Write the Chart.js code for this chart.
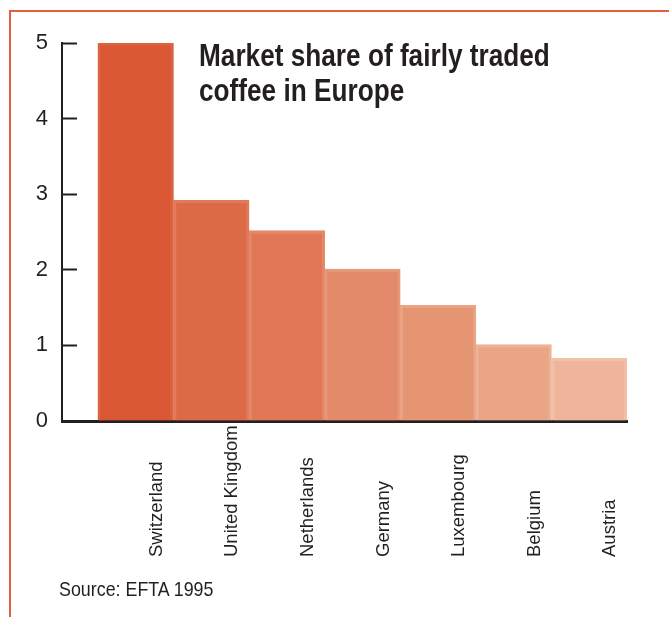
<!DOCTYPE html>
<html>
<head>
<meta charset="utf-8">
<script src="https://cdn.jsdelivr.net/npm/chart.js@4/dist/chart.umd.min.js"></script>
<style>
  html, body { margin: 0; padding: 0; background: #fff; }
  #wrap { position: relative; width: 669px; height: 617px; overflow: hidden; }
  #frame { position: absolute; left: 9px; top: 10px; width: 670px; height: 620px;
           border-top: 2px solid #e1603b; border-left: 2px solid #e1603b; pointer-events: none; }
  #title { position: absolute; left: 199px; top: 38px; font: bold 31px "Liberation Sans", Arial, sans-serif;
           line-height: 35px; color: #231f20; white-space: nowrap;
           transform: scaleX(0.845); transform-origin: 0 0; }
  #source { position: absolute; left: 59px; top: 577px; font: 21px "Liberation Sans", Arial, sans-serif;
            color: #231f20; white-space: nowrap; transform: scaleX(0.85); transform-origin: 0 0; }
</style>
</head>
<body>
<div id="wrap">
  <canvas id="chart" width="669" height="617"></canvas>
  <div id="frame"></div>
  <div id="title">Market share of fairly traded<br>coffee in Europe</div>
  <div id="source">Source: EFTA 1995</div>
</div>
<script>
// market share (%) of fairly traded coffee
const countries = ["Switzerland", "United Kingdom", "Netherlands", "Germany", "Luxembourg", "Belgium", "Austria"];
const shares = [5.0, 2.92, 2.52, 2.01, 1.53, 1.01, 0.83];
const barColors = ["#d95733", "#dd6a46", "#e07856", "#e38a6a", "#e69573", "#eaa586", "#efb59b"];
const barEdges = ["#dc6240", "#e17a5a", "#e48869", "#e7987b", "#eaa385", "#edb297", "#f2c0a9"];
const yTicks = [0, 1, 2, 3, 4, 5];

const ink = "#231f20";

// country names, rotated, start aligned at a common baseline under the bars
const countryLabels = {
    id: "countryLabels",
    afterDraw(chart) {
        const ctx = chart.ctx;
        const xs = chart.scales.x;
        ctx.save();
        ctx.fillStyle = ink;
        ctx.font = '18.5px "Liberation Sans", Arial, sans-serif';
        ctx.textAlign = "left";
        ctx.textBaseline = "middle";
        countries.forEach((name, i) => {
            const px = xs.getPixelForValue(i) + 21;
            ctx.save();
            ctx.translate(px, 557);
            ctx.rotate(-Math.PI / 2);
            ctx.fillText(name, 0, 0);
            ctx.restore();
        });
        ctx.restore();
    }
};

const ctx = document.getElementById("chart").getContext("2d");

new Chart(ctx, {
    type: "bar",
    data: {
        datasets: [{
            data: shares.map((v, i) => ({ x: i, y: v })),
            backgroundColor: barColors,
            borderColor: barEdges,
            borderWidth: 3,
            borderSkipped: "bottom",
            barPercentage: 1.0,
            categoryPercentage: 1.0
        }]
    },
    options: {
        responsive: false,
        animation: false,
        layout: { padding: { left: 0, top: 43, right: 42, bottom: 0 } },
        scales: {
            x: {
                type: "linear",
                offset: false,
                min: -0.975,
                max: 6.5,
                // one tick per country so the bars fill the whole slot
                afterBuildTicks: (s) => { s.ticks = countries.map((c, i) => ({ value: i })); },
                grid: { display: false, offset: false },
                border: { display: true, color: ink, width: 3 },
                ticks: { display: false },
                afterFit: (s) => { s.height = 196; }
            },
            y: {
                min: 0,
                max: 5,
                afterBuildTicks: (s) => { s.ticks = yTicks.map(v => ({ value: v })); },
                grid: { drawOnChartArea: false, tickLength: -15, color: ink, tickColor: ink, tickWidth: 2 },
                border: { display: true, color: ink, width: 2 },
                ticks: {
                    padding: 29,
                    color: ink,
                    font: { family: '"Liberation Sans", Arial, sans-serif', size: 22 }
                },
                afterFit: (s) => { s.width = 62; }
            }
        },
        plugins: {
            legend: { display: false },
            tooltip: { enabled: false }
        }
    },
    plugins: [countryLabels]
});
</script>
</body>
</html>
